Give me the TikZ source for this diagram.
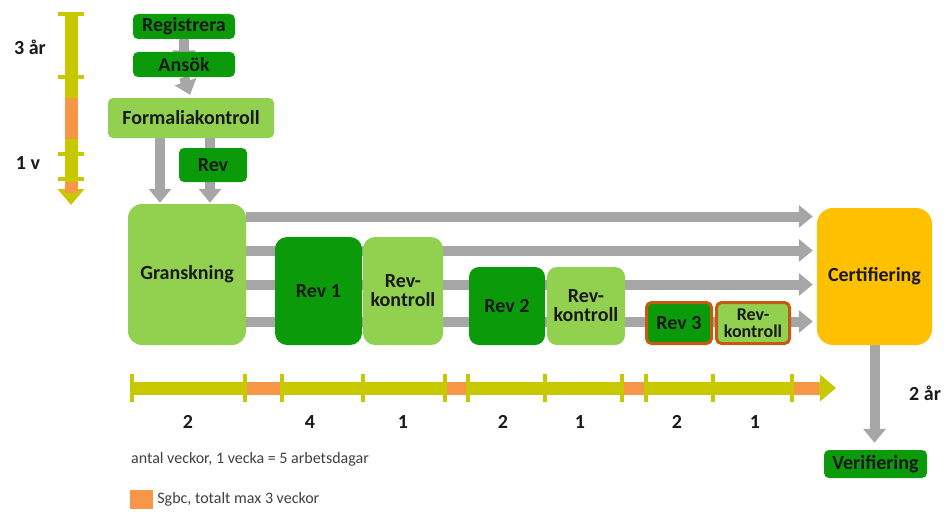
\documentclass[tikz,border=0pt]{standalone}
\usepackage{fontspec}
\setmainfont{Carlito}
\usepackage{tikz}
\usetikzlibrary{arrows.meta,backgrounds}

\definecolor{lgreen}{HTML}{92D050}
\definecolor{dgreen}{HTML}{0A9A0A}
\definecolor{gold}{HTML}{FFC000}
\definecolor{flowgray}{HTML}{A6A6A6}
\definecolor{barcol}{HTML}{C8C800}
\definecolor{sgbc}{HTML}{F79646}
\definecolor{revedge}{HTML}{C55A11}
\definecolor{notegray}{HTML}{404040}

\begin{document}
\begin{tikzpicture}[x=1pt,y=-1pt,
    box/.style={rounded corners=5pt, align=center, inner sep=0pt, text=black!90,
        font=\fontsize{20}{19}\selectfont\bfseries},
    light/.style={box, fill=lgreen},
    dark/.style={box, fill=dgreen},
    flow/.style={draw=flowgray, line width=10pt, -{Triangle[width=22pt,length=14pt]}},
    bar/.style={draw=barcol, line width=13pt, -{Triangle[width=26pt,length=16pt]}},
    tick/.style={draw=barcol, line width=4pt},
    lbl/.style={inner sep=0pt, text=black!90, font=\fontsize{20}{20}\selectfont\bfseries}]
    \useasboundingbox (0,0) rectangle (947,511);

    % Application
    \node[dark, minimum width=102pt, minimum height=25pt] (reg) at (184,26.5) {Registrera};
    \node[dark, minimum width=102pt, minimum height=25pt] (ansok) at (184,64.5) {Ansök};
    \node[light, minimum width=166pt, minimum height=40pt] (formalia) at (191,118) {Formaliakontroll};
    \node[dark, minimum width=68pt, minimum height=34pt] (rev0) at (213,165) {Rev};

    % Review rounds
    \node[light, rounded corners=14pt, minimum width=118pt, minimum height=141pt] (gransk) at (187,274.5) {Granskning};
    \node[dark, rounded corners=12pt, minimum width=87pt, minimum height=108pt] (rev1) at (318.5,291) {Rev 1};
    \node[light, rounded corners=12pt, minimum width=80pt, minimum height=108pt] (rk1) at (403,291) {Rev-\\kontroll};
    \node[dark, rounded corners=10pt, minimum width=76pt, minimum height=78pt] (rev2) at (507,306) {Rev 2};
    \node[light, rounded corners=10pt, minimum width=78pt, minimum height=78pt] (rk2) at (586,306) {Rev-\\kontroll};
    \node[dark, draw=revedge, line width=3pt, minimum width=65pt, minimum height=41pt] (rev3) at (679,323) {Rev 3};
    \node[light, draw=revedge, line width=3pt, minimum width=73pt, minimum height=41pt,
        font=\fontsize{18}{17}\selectfont\bfseries] (rk3) at (753,323) {Rev-\\kontroll};
    \node[box, fill=gold, rounded corners=16pt, minimum width=115pt, minimum height=137pt] (cert) at (874.5,276.5) {Certifiering};
    \node[dark, minimum width=103pt, minimum height=28pt] (verif) at (875.5,464) {Verifiering};

    \begin{scope}[on background layer]
        \draw[flow] (reg.south) -- (ansok.center);
        \draw[flow, shorten >=3pt] (ansok.south) -- (formalia.north);
        \draw[flow, shorten >=1pt] ([xshift=-31pt]formalia.south) -- ([xshift=-31pt]formalia.south |- gransk.north);
        \draw[flow, shorten >=1pt] ([xshift=19pt]formalia.south) -- ([xshift=19pt]formalia.south |- gransk.north);
        \foreach \dy in {58,24,-10,-47}
            \draw[flow, shorten >=4pt] ([yshift=\dy pt]gransk.east) -- ([yshift=\dy pt]gransk.east -| cert.west);
        \draw[flow, shorten >=7pt] (cert.south) -- (cert.south |- verif.north);
    \end{scope}

    % Vertical timeline
    \draw[bar] (71,14) -- (71,205);
    \draw[sgbc, line width=13pt] (71,98) -- (71,139);
    \draw[sgbc, line width=13pt] (71,182) -- (71,193);
    \foreach \y in {14,77,154,179}
        \draw[tick] (58,\y) -- (84,\y);
    \node[lbl] (t3) at (30,47) {3 år};
    \node[lbl] (t1) at (28,163) {1 v};

    % Horizontal timeline
    \draw[bar] (132,388) -- (836,388);
    \foreach \a/\b in {245/282,445/468,622/646,792/819}
        \draw[sgbc, line width=13pt] (\a,388) -- (\b,388);
    \foreach \x in {132,245,282,363,445,468,545,622,646,713,792}
        \draw[tick] (\x,374) -- (\x,402);
    \foreach \x/\n in {188/2,310/4,403/1,503/2,580/1,677/2,755/1}
        \node[lbl] (w\x) at (\x,422) {\n};
    \node[lbl, anchor=west] (t2) at (909,393) {2 år};

    % Legend
    \node[anchor=west, inner sep=0pt, text=notegray, font=\fontsize{16}{16}\selectfont] (note) at (131,459)
        {antal veckor, 1 vecka = 5 arbetsdagar};
    \node[fill=sgbc, inner sep=0pt, minimum width=23pt, minimum height=19pt] (key) at (141.5,499.5) {};
    \node[anchor=west, inner sep=0pt, text=notegray, font=\fontsize{16}{16}\selectfont] (keytext)
        at ([xshift=4pt]key.east) {Sgbc, totalt max 3 veckor};
\end{tikzpicture}
\end{document}
